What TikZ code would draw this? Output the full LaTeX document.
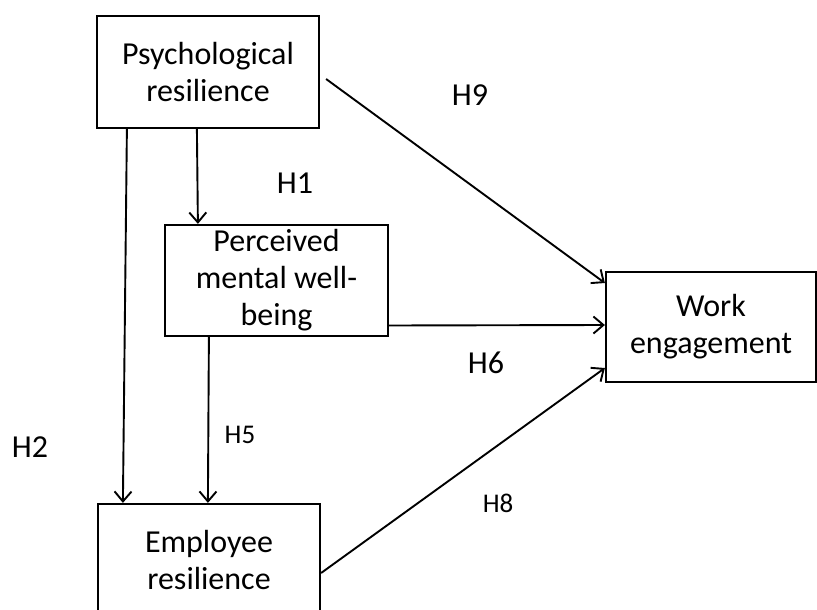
\documentclass[tikz,border=0pt]{standalone}
\usepackage{fontspec}
\setmainfont{Carlito}
\usetikzlibrary{arrows.meta}
\begin{document}
\begin{tikzpicture}[x=1pt,y=-1pt,
  box/.style={draw,line width=2.2pt,align=center,inner sep=0pt,
    font=\fontsize{32}{37}\selectfont},
  arr/.style={line width=1.9pt,-{Straight Barb[length=10pt,width=17pt,line width=1.9pt]}},
  biglab/.style={font=\fontsize{32}{37}\selectfont},
  smalllab/.style={font=\fontsize{27}{32}\selectfont}]
\clip (0,0) rectangle (817,610);
\useasboundingbox (0,0) rectangle (817,610);
% constructs
\node[box,minimum width=222pt,minimum height=112pt] (psy) at (208,72) {Psychological\\resilience};
\node[box,minimum width=223pt,minimum height=111pt] (per) at (276.5,280.5) {Perceived\\mental well-\\being};
\node[box,minimum width=210pt,minimum height=110pt] (work) at (711,327) {Work\\engagement};
\node[box,minimum width=222pt,minimum height=112pt] (emp) at (209,560) {Employee\\resilience};
% paths
\draw[arr] ([xshift=31pt]psy.south west) -- ([xshift=26pt]emp.north west);
\draw[arr] ([xshift=101pt]psy.south west) -- ([xshift=34pt]per.north west);
\draw[arr] ([xshift=45pt]per.south west) -- ([xshift=111pt]emp.north west);
\draw[arr] ([shift={(6,7)}]psy.east) -- ([yshift=44pt]work.west);
\draw[arr] ([yshift=-45pt]per.east) -- ([yshift=2pt]work.west);
\draw[arr] ([yshift=-13pt]emp.east) -- ([yshift=-41pt]work.west);
% hypothesis labels
\node[biglab] (h9) at (470,95) {H9};
\node[biglab] (h1) at (295,183) {H1};
\node[biglab] (h6) at (486,363) {H6};
\node[biglab] (h2) at (30,447) {H2};
\node[smalllab] (h5) at (240,435) {H5};
\node[smalllab] (h8) at (498,503) {H8};
\end{tikzpicture}
\end{document}
